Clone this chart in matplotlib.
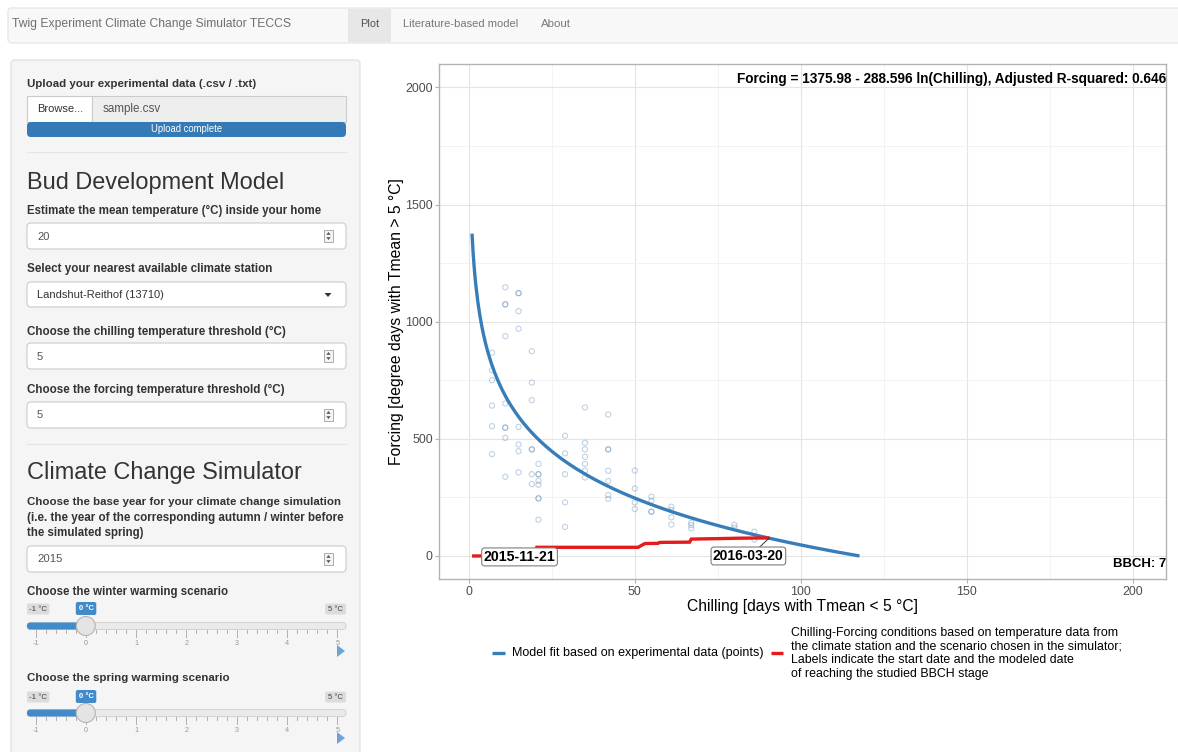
import math
import numpy as np
import matplotlib
matplotlib.use("Agg")
import matplotlib.pyplot as plt
from matplotlib.patches import FancyBboxPatch, Circle, Polygon

plt.rcParams['font.family'] = ['Liberation Sans', 'DejaVu Sans']

# ---------------- data ----------------
obs_chill_groups = [7, 11, 15, 19, 21, 29, 35, 42, 50, 55, 61, 67, 80, 86]
obs_force_groups = [
    [868, 793, 750, 642, 554, 435],
    [1147, 1074, 1074, 938, 651, 548, 548, 504, 338],
    [1122, 1122, 1045, 970, 551, 476, 447, 357],
    [874, 740, 665, 455, 455, 349, 307],
    [393, 349, 349, 321, 304, 246, 246, 155],
    [513, 438, 349, 229, 124],
    [634, 483, 455, 423, 393, 364, 335],
    [604, 455, 455, 364, 320, 260, 244],
    [365, 288, 229, 200],
    [253, 236, 189, 189],
    [210, 196, 165, 134],
    [142, 132, 118],
    [133, 121],
    [104, 70],
]
model_intercept = 1375.98
model_slope = 288.596
adj_r2 = 0.646
sim_chill = [1, 20, 20.5, 51, 52, 53, 57, 57.5, 66.5, 67, 75, 82, 90.5]
sim_force = [0, 0, 37, 37, 45, 53, 54, 58, 59, 72, 74, 76, 77]
start_date = "2015-11-21"
end_date = "2016-03-20"
bbch_stage = 7
x_ticks = [0, 50, 100, 150, 200]
y_ticks = [0, 500, 1000, 1500, 2000]
slider_ticks = [-1, 0, 1, 2, 3, 4, 5]
winter_warming = 0
spring_warming = 0

# ---------------- figure ----------------
W, H = 1178, 752
fig = plt.figure(figsize=(W / 100, H / 100), dpi=100, facecolor='white')
ui = fig.add_axes([0, 0, 1, 1])
ui.set_xlim(0, W)
ui.set_ylim(H, 0)
ui.axis('off')
renderer = fig.canvas.get_renderer()


def box(x0, y0, x1, y1, fc, ec='none', lw=1.0, r=0, z=1):
    style = f"round,pad=0,rounding_size={r}" if r else "square,pad=0"
    p = FancyBboxPatch((x0, y0), x1 - x0, y1 - y0, boxstyle=style,
                       fc=fc, ec=ec, lw=lw, zorder=z)
    ui.add_patch(p)
    return p


def ftext(ax, x, y, s, width, size=10, **kw):
    t = ax.text(x, y, s, fontsize=size, **kw)
    w = t.get_window_extent(renderer).width
    t.set_fontsize(size * width / w)
    return t


# ---- navbar ----
box(8, 8, 1190, 43, '#f8f8f8', '#e7e7e7', r=4)
box(348, 9, 391, 42, '#e7e7e7', z=2)
ftext(ui, 12, 24, "Twig Experiment Climate Change Simulator TECCS", 281,
      va='center', color='#6f6f6f', zorder=3)
ftext(ui, 360, 24, "Plot", 19, va='center', color='#555555', zorder=3)
ftext(ui, 403, 24, "Literature-based model", 115, va='center', color='#777777', zorder=3)
ftext(ui, 541, 24, "About", 30, va='center', color='#777777', zorder=3)

# ---- sidebar ----
box(11, 60, 360, 790, '#f5f5f5', '#e3e3e3', r=4)

LBL = dict(va='center', color='#333333', fontweight='bold', zorder=3)
INP = dict(va='center', color='#555555', zorder=3)


def number_input(y0, y1, value, vw):
    box(27, y0, 346, y1, 'white', '#cccccc', lw=0.8, r=4, z=2)
    yc = (y0 + y1) / 2
    ftext(ui, 37, yc + 0.5, value, vw, **INP)
    box(324, yc - 6, 333, yc + 6, '#f4f4f4', '#a0a0a0', lw=0.6, z=3)
    ui.add_patch(Polygon([[326.3, yc - 1.2], [330.7, yc - 1.2], [328.5, yc - 4]],
                         closed=True, fc='#555555', ec='none', zorder=4))
    ui.add_patch(Polygon([[326.3, yc + 1.2], [330.7, yc + 1.2], [328.5, yc + 4]],
                         closed=True, fc='#555555', ec='none', zorder=4))


ftext(ui, 27, 84, "Upload your experimental data (.csv / .txt)", 228, **LBL)
box(27, 96, 92, 122, 'white', '#cccccc', lw=0.8, z=2)
box(92, 96, 346, 122, '#eeeeee', '#cccccc', lw=0.8, z=2)
ftext(ui, 37, 109, "Browse...", 46, va='center', color='#333333', zorder=3)
ftext(ui, 103, 109, "sample.csv", 58, **INP)
box(27, 122, 346, 137, '#337ab7', r=4, z=3)
ftext(ui, 187, 129.5, "Upload complete", 72, va='center', ha='center', color='white', zorder=4)
ui.plot([27, 346], [152, 152], color='#e4e4e4', lw=0.8, zorder=2)

ftext(ui, 27, 183, "Bud Development Model", 258, va='center', color='#333333', zorder=3)
ftext(ui, 27, 211, "Estimate the mean temperature (°C) inside your home", 294, **LBL)
number_input(223, 249, "20", 12.5)
ftext(ui, 27, 269, "Select your nearest available climate station", 243, **LBL)
box(27, 282, 346, 307, 'white', '#cccccc', lw=0.8, r=4, z=2)
ftext(ui, 37, 295, "Landshut-Reithof (13710)", 127, va='center', color='#333333', zorder=3)
ui.add_patch(Polygon([[324.5, 293], [331.5, 293], [328, 297]], closed=True,
                     fc='#333333', ec='none', zorder=4))
ftext(ui, 27, 332, "Choose the chilling temperature threshold (°C)", 258, **LBL)
number_input(343, 369, "5", 6.3)
ftext(ui, 27, 390, "Choose the forcing temperature threshold (°C)", 257, **LBL)
number_input(402, 428, "5", 6.3)
ui.plot([27, 346], [444, 444], color='#e4e4e4', lw=0.8, zorder=2)

ftext(ui, 27, 473, "Climate Change Simulator", 275, va='center', color='#333333', zorder=3)
ftext(ui, 27, 502, "Choose the base year for your climate change simulation", 312, **LBL)
ftext(ui, 27, 518, "(i.e. the year of the corresponding autumn / winter before", 316, **LBL)
ftext(ui, 27, 533, "the simulated spring)", 117, **LBL)
number_input(546, 572, "2015", 25)


def slider(y_title, title, tw, y_lab, y_track, value):
    ftext(ui, 27, y_title, title, tw, **LBL)
    x_of = lambda v: 35.5 + (v - slider_ticks[0]) * 50.3
    # min / max labels
    box(27, y_lab - 5.5, 49.5, y_lab + 5.5, '#dcdcdc', r=2, z=2)
    ftext(ui, 38.25, y_lab + 0.3, f"{slider_ticks[0]} °C", 18, ha='center', va='center',
          color='#444444', zorder=3)
    box(325, y_lab - 5.5, 346, y_lab + 5.5, '#dcdcdc', r=2, z=2)
    ftext(ui, 335.5, y_lab + 0.3, f"{slider_ticks[-1]} °C", 15, ha='center', va='center',
          color='#444444', zorder=3)
    xv = x_of(value)
    box(xv - 10, y_lab - 7, xv + 10.5, y_lab + 6, '#428bca', r=2, z=2)
    ftext(ui, xv + 0.2, y_lab - 0.3, f"{value} °C", 15, ha='center', va='center',
          color='white', fontweight='bold', zorder=3)
    # track
    box(27, y_track - 3.5, 346, y_track + 3.5, '#eaeaea', '#cfcfcf', lw=0.6, r=3.5, z=2)
    box(27, y_track - 3.5, xv, y_track + 3.5, '#428bca', r=3.5, z=3)
    ui.add_patch(Circle((xv, y_track), 9.5, fc='#e4e4e4', ec='#b5b5b5', lw=0.8, zorder=5))
    # grid ticks
    n_minor = 5
    for i in range((len(slider_ticks) - 1) * n_minor + 1):
        v = slider_ticks[0] + i / n_minor
        xt = x_of(v)
        major = (i % n_minor == 0)
        ui.plot([xt, xt], [y_track + 4, y_track + (11 if major else 7)],
                color='#b0b0b0', lw=0.7, zorder=2)
    for v in slider_ticks:
        ui.text(x_of(v), y_track + 17.5, str(v), ha='center', va='center',
                fontsize=5.2, color='#9a9a9a', zorder=3)
    ui.add_patch(Polygon([[337, y_track + 19], [337, y_track + 31], [345, y_track + 25]],
                         closed=True, fc='#6fa3d6', ec='none', zorder=3))


slider(592, "Choose the winter warming scenario", 201, 609, 626, winter_warming)
slider(678, "Choose the spring warming scenario", 202, 697, 713, spring_warming)

# ---------------- plot panel ----------------
L, R, T, B = 439, 1166, 64, 579.4
ax = fig.add_axes([L / W, 1 - B / H, (R - L) / W, (B - T) / H])
ax.set_xlim(-8.95, 209.95)
ax.set_ylim(-100, 2100)
ax.set_xticks(x_ticks)
ax.set_yticks(y_ticks)
ax.set_xticks([25, 75, 125, 175], minor=True)
ax.set_yticks([250, 750, 1250, 1750], minor=True)
ax.grid(which='major', color='#e4e4e4', lw=0.8)
ax.grid(which='minor', color='#f1f1f1', lw=0.6)
ax.set_axisbelow(True)
ax.tick_params(which='major', length=3, width=0.8, color='#b3b3b3',
               labelcolor='#4d4d4d', labelsize=8.9, pad=1.5)
ax.tick_params(which='minor', length=0)
for s in ax.spines.values():
    s.set_color('#b3b3b3')
    s.set_linewidth(1.0)

xs = [c for c, fs in zip(obs_chill_groups, obs_force_groups) for _ in fs]
ys = [f for fs in obs_force_groups for f in fs]
ax.scatter(xs, ys, s=14, facecolors='none', edgecolors='#2f6aa3',
           linewidths=0.8, alpha=0.3, zorder=3)

c_end = math.exp(model_intercept / model_slope)
cc = np.linspace(1, c_end, 400)
ax.plot(cc, model_intercept - model_slope * np.log(cc), color='#377eb8',
        lw=2.4, zorder=4, solid_capstyle='butt')
ax.plot(sim_chill, sim_force, color='#e41a1c', lw=2.4, zorder=5,
        solid_capstyle='butt', solid_joinstyle='miter')

# repel-style labels
ax.plot([87.6, sim_chill[-1]], [38, sim_force[-1]], color='#333333', lw=0.7, zorder=6)
lab_box = dict(boxstyle='round,pad=0.14,rounding_size=0.2', fc='white',
               ec='#7f7f7f', lw=0.8)
ftext(ax, 15.3, -4, start_date, 71, ha='center', va='center', fontweight='bold',
      color='black', zorder=7, bbox=lab_box)
ftext(ax, 84.2, 0, end_date, 71, ha='center', va='center', fontweight='bold',
      color='black', zorder=7, bbox=lab_box)

ftext(ax, 1.0, (B - 79) / (B - T),
      f"Forcing = {model_intercept} - {model_slope} ln(Chilling), Adjusted R-squared: {adj_r2}",
      432, transform=ax.transAxes, ha='right', va='center', fontweight='bold',
      color='black', zorder=8)
ftext(ax, 1.0, (B - 564) / (B - T), f"BBCH: {bbch_stage}", 53,
      transform=ax.transAxes, ha='right', va='center', fontweight='bold',
      color='black', zorder=8)

xl = ax.set_xlabel("Chilling [days with Tmean < 5 °C]", fontsize=10)
xl.set_fontsize(10 * 231 / xl.get_window_extent(renderer).width)
ax.xaxis.set_label_coords(0.5, (B - 606) / (B - T))
xl.set_va('center')
yl = ax.set_ylabel("Forcing [degree days with Tmean > 5 °C]", fontsize=10)
yl.set_fontsize(10 * 288 / yl.get_window_extent(renderer).height)
ax.yaxis.set_label_coords((396 - L) / (R - L), 0.5)
yl.set_va('center')

# ---------------- legend (below the plot) ----------------
ui.plot([492, 505], [653, 653], color='#377eb8', lw=2.4, solid_capstyle='butt')
ftext(ui, 512, 653, "Model fit based on experimental data (points)", 251,
      va='center', color='black')
ui.plot([771, 783], [653, 653], color='#e41a1c', lw=2.4, solid_capstyle='butt')
ftext(ui, 791, 653.5,
      "Chilling-Forcing conditions based on temperature data from\n"
      "the climate station and the scenario chosen in the simulator;\n"
      "Labels indicate the start date and the modeled date\n"
      "of reaching the studied BBCH stage",
      331, va='center', color='black', linespacing=1.18)

fig.savefig("out.png", dpi=100, facecolor='white')
